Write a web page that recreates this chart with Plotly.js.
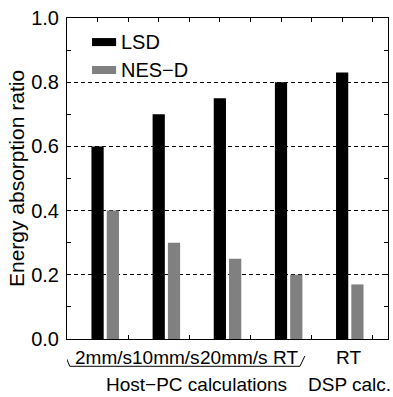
<!DOCTYPE html>
<html>
<head>
<meta charset="utf-8">
<script src="https://cdn.plot.ly/plotly-3.0.1.min.js"></script>
<style>html,body{margin:0;padding:0;background:#fff;}#chart{width:393px;height:397px;}</style>
</head>
<body>
<div id="chart"></div>
<script>
// ---- data ----
const categories = ["2mm/s", "10mm/s", "20mm/s", "RT", "RT"];
const groupLabels = ["Host\u2212PC calculations", "DSP calc."];
const groupMembers = [[0, 1, 2, 3], [4]];
const seriesNames = ["LSD", "NES\u2212D"];
const lsd = [0.60, 0.70, 0.75, 0.80, 0.83];
const nesd = [0.40, 0.30, 0.25, 0.20, 0.17];

// ---- style ----
const FONT = "Liberation Sans, Arial, Helvetica, sans-serif";
const colors = ["#000000", "#808080"];
const barWidth = 0.2;
const offsets = [-0.1, 0.15];
const groupShift = 0.125;
const labelPixelShift = [-2, 0, 6, -3, -1];

const xpos = categories.map((c, i) => i + 1);

const traces = [lsd, nesd].map((vals, k) => ({
  type: "bar",
  x: xpos,
  y: vals,
  name: seriesNames[k],
  width: barWidth,
  offset: offsets[k],
  marker: {color: colors[k], line: {width: 0}},
  showlegend: false
}));

const annotations = [];
categories.forEach((c, i) => {
  annotations.push({
    x: xpos[i] + groupShift, xref: "x", y: -0.018, yref: "paper",
    xshift: labelPixelShift[i],
    yanchor: "top", xanchor: "center", showarrow: false,
    text: c, font: {family: FONT, size: 19, color: "#000"}
  });
});
groupLabels.forEach((g, j) => {
  const mem = groupMembers[j];
  const cx = (xpos[mem[0]] + xpos[mem[mem.length - 1]]) / 2 + groupShift;
  annotations.push({
    x: cx, xref: "x", y: -0.103, yref: "paper",
    yanchor: "top", xanchor: "center", showarrow: false,
    text: g, font: {family: FONT, size: 19, color: "#000"}
  });
});
// legend texts
const legY = [0.925, 0.838];
seriesNames.forEach((n, k) => {
  annotations.push({
    x: 0.163, xref: "paper", y: legY[k], yref: "paper",
    xanchor: "left", yanchor: "middle", showarrow: false,
    text: n, font: {family: FONT, size: 20, color: "#000"}
  });
});

const shapes = [];
seriesNames.forEach((n, k) => {
  shapes.push({
    type: "rect", xref: "paper", yref: "paper",
    x0: 0.078, x1: 0.153, y0: legY[k] - 0.0125, y1: legY[k] + 0.0125,
    fillcolor: colors[k], line: {width: 0}
  });
});
// bracket under the Host-PC group
const b0 = xpos[groupMembers[0][0]] - 0.525, b1 = xpos[groupMembers[0][3]] + 0.39;
shapes.push({
  type: "path", xref: "x", yref: "paper",
  path: `M ${b0},-0.053 L ${b0 + 0.07},-0.085 L ${b1 - 0.08},-0.085 L ${b1},-0.053`,
  line: {color: "#000", width: 1}
});

const layout = {
  width: 393, height: 397,
  margin: {l: 67, r: 5, t: 18, b: 58, pad: 0},
  paper_bgcolor: "#fff", plot_bgcolor: "#fff",
  font: {family: FONT, size: 20, color: "#000"},
  barmode: "overlay",
  showlegend: false,
  xaxis: {
    range: [0.5, 5.75], tick0: 0.5, dtick: 0.5,
    ticks: "inside", ticklen: 4, tickcolor: "#000",
    showticklabels: false, showgrid: false, zeroline: false,
    showline: true, linecolor: "#000", linewidth: 1, mirror: "ticks"
  },
  yaxis: {
    range: [0, 1], dtick: 0.2, tickformat: ".1f",
    ticks: "inside", ticklen: 4, tickcolor: "#000",
    tickfont: {family: FONT, size: 20, color: "#000"},
    ticklabelstandoff: 3,
    showgrid: true, gridcolor: "#000", gridwidth: 1, griddash: "4px,3px",
    zeroline: false,
    showline: true, linecolor: "#000", linewidth: 1, mirror: "ticks",
    minor: {dtick: 0.1, ticks: "inside", ticklen: 4, tickcolor: "#000", showgrid: false},
    title: {text: "Energy absorption ratio", font: {family: FONT, size: 21, color: "#000"}, standoff: 0}
  },
  annotations: annotations,
  shapes: shapes
};

Plotly.newPlot("chart", traces, layout, {displayModeBar: false, staticPlot: true});
</script>
</body>
</html>
